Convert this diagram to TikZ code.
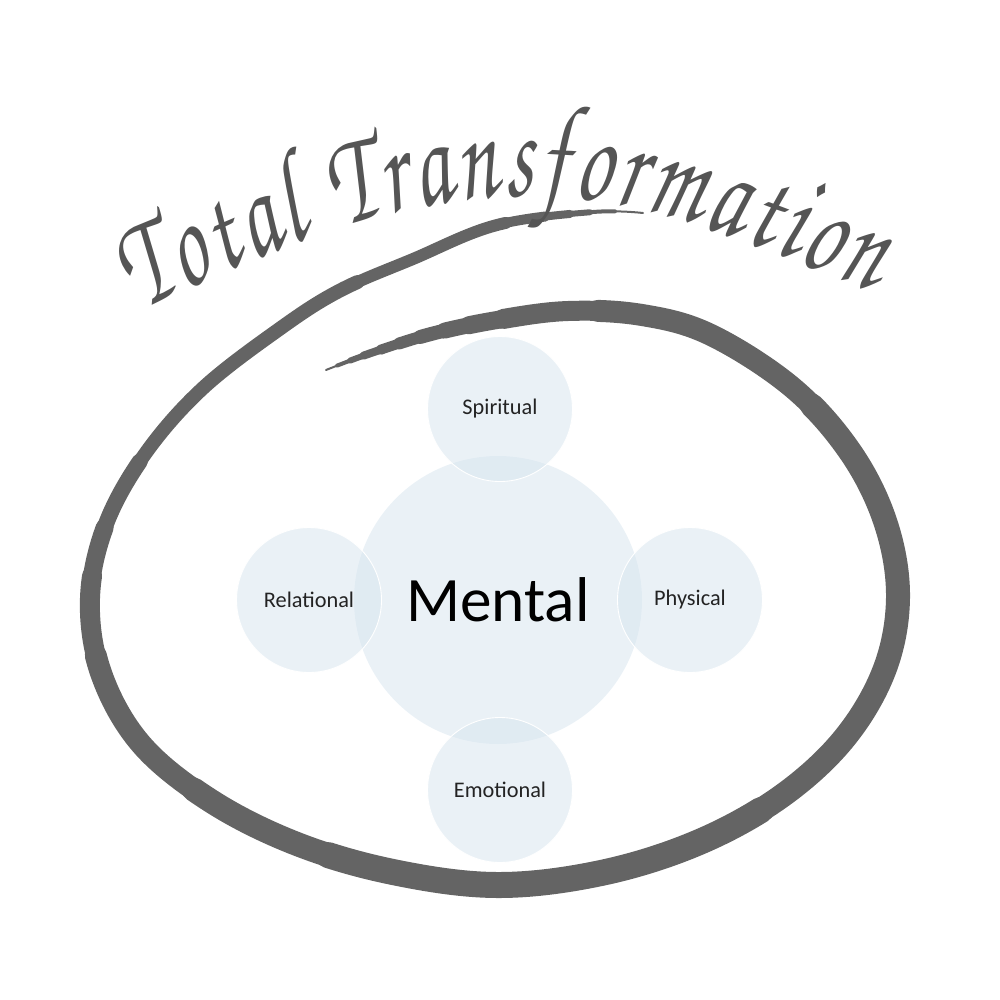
\documentclass[tikz,border=0pt]{standalone}
\usepackage{fontspec}
\setmainfont{Carlito}
\newfontfamily\handfont[FakeStretch=0.66]{texgyrechorus-mediumitalic.otf}
\usetikzlibrary{positioning, decorations.text}

\definecolor{brushgray}{RGB}{100,100,100}
\definecolor{inkgray}{RGB}{85,85,85}
\definecolor{bubble}{RGB}{214,228,238}
\definecolor{labelink}{RGB}{35,35,35}

\tikzset{
  brush/.style={draw=brushgray, line cap=round, line join=round},
  core/.style={circle, fill=bubble, fill opacity=0.5, text opacity=1, minimum size=57.6mm, inner sep=0pt, font=\fontsize{36}{40}\selectfont, text=black},
  facet/.style={circle, fill=bubble, fill opacity=0.5, text opacity=1, draw=white, draw opacity=1, line width=0.5pt, minimum size=29mm, inner sep=0pt, font=\fontsize{12.7}{15}\selectfont, text=labelink}
}

\begin{document}
\begin{tikzpicture}[x=0.2mm, y=-0.2mm]
  \useasboundingbox (0,0) rectangle (1000,1000);

  %Brush loop
  \def\brushpath{plot[smooth, tension=0.6] coordinates {(326,370) (371,353) (431,334) (497,320) (568,311) (642,315) (711,335) (793,388) (851,453) (886,524) (898,598) (884,671) (843,740) (779,798) (697,843) (601,873) (497,885) (393,872) (297,844) (211,801) (141,744) (101,673) (90,598) (106,524) (145,454) (202,389) (278,330) (339,291) (413,259) (497,225) (593,212) (643,213)}}
  \draw[brush, line width=0.4mm] \brushpath;
  \foreach \w/\b/\e in {4/12/2530, 6/26/2505, 8/40/2485, 10/58/2460, 12/78/2420, 14/100/2260, 16/125/1975, 18/150/1900, 20/185/1850, 22/280/1770, 24/520/1600, 26/1000/1450}{
    \pgfmathsetmacro\lw{0.2*\w}
    \pgfmathsetmacro\seglen{0.2*(\e-\b)}
    \pgfmathsetmacro\segph{1000+\seglen-0.2*\b}
    \draw[brush, line width=\lw mm, dash pattern=on \seglen mm off 1000mm, dash phase=\segph mm] \brushpath;
  }

  %Title
  \coordinate (t1) at (140,312);
  \coordinate (t2) at (540,196);
  \coordinate (t3) at (872,292);
  \path[decorate, decoration={text along path, text align={fit to path}, text color=inkgray,
      text={|\handfont\fontsize{76}{76}\selectfont|Total Transformation}}]
    (t1) .. controls (255,255) and (400,192) .. (t2) .. controls (660,199) and (770,252) .. (t3);

  %Nodes
  \node[core]  (mental)     at (498,600) {Mental};
  \node[facet] (spiritual)  at (500,409) {Spiritual};
  \node[facet] (relational) at (309,600) {Relational};
  \node[facet] (physical)   at (690,600) {Physical};
  \node[facet] (emotional)  at (500,790) {Emotional};
\end{tikzpicture}
\end{document}
